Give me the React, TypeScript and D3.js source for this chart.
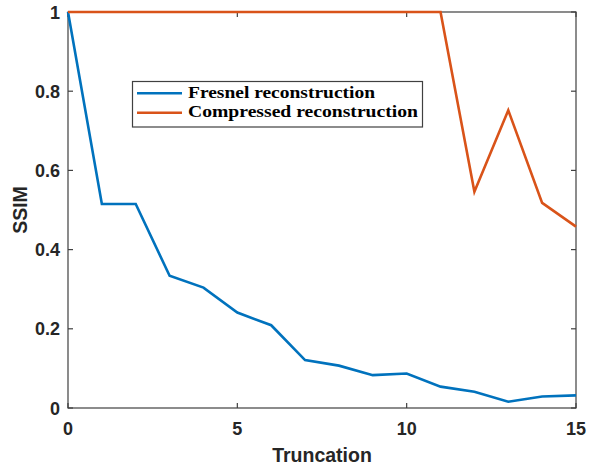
import React, { useEffect, useRef } from 'react';
import * as d3 from 'd3';

const truncation = [0, 1, 2, 3, 4, 5, 6, 7, 8, 9, 10, 11, 12, 13, 14, 15];
const fresnelSsim = [1, 0.515, 0.515, 0.334, 0.304, 0.241, 0.209, 0.121, 0.107, 0.083, 0.087, 0.054, 0.041, 0.016, 0.029, 0.032];
const compressedSsim = [1, 1, 1, 1, 1, 1, 1, 1, 1, 1, 1, 1, 0.546, 0.752, 0.518, 0.458];
const xTicks = [0, 5, 10, 15];
const yTicks = [0, 0.2, 0.4, 0.6, 0.8, 1];
const seriesNames = ['Fresnel reconstruction', 'Compressed reconstruction'];
const seriesColors = ['#0072BD', '#D95319'];

const App: React.FC = () => {
  const ref = useRef<SVGSVGElement>(null);

  useEffect(() => {
    if (!ref.current) return;
    const W = 589, H = 467;
    const left = 68, right = 576, top = 12, bottom = 408;
    const axisColor = '#262626';
    const sans = '"Liberation Sans", Arial, sans-serif';

    const svg = d3.select(ref.current);
    svg.selectAll('*').remove();
    svg.attr('width', W).attr('height', H);
    svg.append('rect').attr('width', W).attr('height', H).attr('fill', '#fff');

    const x = d3.scaleLinear().domain([0, 15]).range([left, right]);
    const y = d3.scaleLinear().domain([0, 1]).range([bottom, top]);

    // box + inward ticks on all four sides
    const tickLen = 5;
    const g = svg.append('g').attr('stroke', '#404040').attr('stroke-width', 1.2);
    g.append('rect')
      .attr('x', left).attr('y', top)
      .attr('width', right - left).attr('height', bottom - top)
      .attr('fill', 'none');
    xTicks.forEach(t => {
      g.append('line').attr('x1', x(t)).attr('x2', x(t)).attr('y1', bottom).attr('y2', bottom - tickLen);
      g.append('line').attr('x1', x(t)).attr('x2', x(t)).attr('y1', top).attr('y2', top + tickLen);
    });
    yTicks.forEach(t => {
      g.append('line').attr('x1', left).attr('x2', left + tickLen).attr('y1', y(t)).attr('y2', y(t));
      g.append('line').attr('x1', right).attr('x2', right - tickLen).attr('y1', y(t)).attr('y2', y(t));
    });

    // tick labels
    svg.append('g').selectAll('text').data(xTicks).enter().append('text')
      .attr('x', d => x(d)).attr('y', 435)
      .attr('text-anchor', 'middle')
      .style('font-family', sans).style('font-size', '18px').style('font-weight', 'bold')
      .style('fill', axisColor)
      .text(d => d3.format('~g')(d));

    svg.append('g').selectAll('text').data(yTicks).enter().append('text')
      .attr('x', 60).attr('y', d => y(d) + 6.5)
      .attr('text-anchor', 'end')
      .style('font-family', sans).style('font-size', '18px').style('font-weight', 'bold')
      .style('fill', axisColor)
      .text(d => d3.format('~g')(d));

    // axis titles
    svg.append('text')
      .attr('x', (left + right) / 2).attr('y', 461.5)
      .attr('text-anchor', 'middle')
      .style('font-family', sans).style('font-size', '19.5px').style('font-weight', 'bold')
      .style('fill', axisColor)
      .text('Truncation');
    svg.append('text')
      .attr('transform', `translate(26.5,210) rotate(-90)`)
      .attr('text-anchor', 'middle')
      .style('font-family', sans).style('font-size', '19.5px').style('font-weight', 'bold')
      .style('fill', axisColor)
      .text('SSIM');

    // lines
    const line = d3.line<number>()
      .x((_, i) => x(truncation[i]))
      .y(d => y(d));
    [fresnelSsim, compressedSsim].forEach((s, i) => {
      svg.append('path')
        .attr('d', line(s))
        .attr('fill', 'none')
        .attr('stroke', seriesColors[i])
        .attr('stroke-width', 2.6)
        .attr('stroke-linejoin', 'miter');
    });

    // legend
    const lg = svg.append('g');
    lg.append('rect')
      .attr('x', 132.5).attr('y', 81.5).attr('width', 290).attr('height', 45.5)
      .attr('fill', '#fff').attr('stroke', '#404040').attr('stroke-width', 1.2);
    const rowY = [93.3, 112.7];
    const textLen = [187, 230];
    seriesNames.forEach((name, i) => {
      lg.append('line')
        .attr('x1', 137).attr('x2', 182)
        .attr('y1', rowY[i]).attr('y2', rowY[i])
        .attr('stroke', seriesColors[i]).attr('stroke-width', 2.6);
      lg.append('text')
        .attr('x', 188).attr('y', rowY[i] + 4.5)
        .attr('textLength', textLen[i]).attr('lengthAdjust', 'spacingAndGlyphs')
        .style('font-family', '"Liberation Serif", "DejaVu Serif", serif')
        .style('font-size', '17px').style('font-weight', 'bold')
        .style('fill', '#000')
        .text(name);
    });
  }, []);

  return <svg ref={ref} style={{ position: 'absolute', left: 0, top: 0, display: 'block' }} />;
};

export default App;
